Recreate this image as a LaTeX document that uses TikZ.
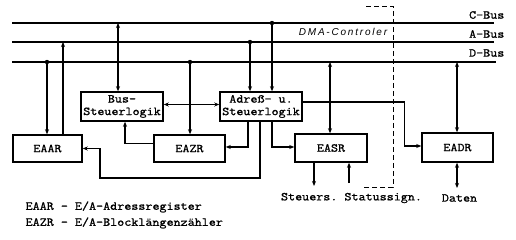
\documentclass[tikz,border=0pt]{standalone}
\usepackage{fontspec}
\setmonofont{Latin Modern Mono}[FakeStretch=1.14,FakeBold=1.2]
\newfontfamily\handfont[LetterSpace=18]{Liberation Sans}
\usetikzlibrary{arrows.meta,calc}

\begin{document}
\begin{tikzpicture}[x=1pt,y=-1pt,>={Stealth[length=5pt,width=4pt]},line width=1.3pt,
  every node/.style={font=\ttfamily\fontsize{12}{12.5}\selectfont,inner sep=0pt},
  blk/.style={draw,line width=1.5pt,align=center},
  dot/.style={circle,fill,minimum size=4.5pt}]
  \useasboundingbox (0,0) rectangle (516,240);
  % buses
  \foreach \y/\name/\lab/\ly/\xe in {23/cbus/C-Bus/15/494,42/abus/A-Bus/34/494,62/dbus/D-Bus/53/496}{
    \coordinate (\name) at (12,\y);
    \draw (\name) -- (\xe,\y);
    \node[anchor=east] (\name l) at (505,\ly) {\lab};
  }
  \draw[dashed,line width=0.6pt,dash pattern=on 5pt off 3pt] (366,6) -- (393,6) -- (393,187) -- (363,187);
  \node (dma) at (343,32) {\handfont\itshape\fontsize{10}{11}\selectfont DMA-Controler};
  % blocks
  \node[blk,minimum width=82pt,minimum height=29pt] (bsl) at (122,106.5) {Bus-\\Steuerlogik};
  \node[blk,minimum width=82pt,minimum height=29pt] (asl) at (261,106.5) {Adreß- u.\\Steuerlogik};
  \node[blk,minimum width=69pt,minimum height=27pt] (eaar) at (47.5,148.5) {EAAR};
  \node[blk,minimum width=71pt,minimum height=27pt] (eazr) at (189.5,148.5) {EAZR};
  \node[blk,minimum width=72pt,minimum height=28pt] (easr) at (331,148) {EASR};
  \node[blk,minimum width=71pt,minimum height=29pt] (eadr) at (457.5,147.5) {EADR};
  % bus taps
  \coordinate (c1) at (118,23);
  \coordinate (c2) at (272,23);
  \coordinate (a1) at (63,42);
  \coordinate (a2) at (250,42);
  \coordinate (d1) at (47,62);
  \coordinate (d2) at (190,62);
  \coordinate (d3) at (330,62);
  \coordinate (d4) at (457,62);
  \foreach \p in {c2,a2,d1,d2}{\fill (\p) circle (2.2pt);}
  \draw[<->] (c1) -- (c1 |- bsl.north);
  \draw[->] (c2) -- (c2 |- asl.north);
  \draw[->] (a2) -- (a2 |- asl.north);
  \draw[->] (a1 |- eaar.north) -- (a1);
  \draw[->] (d1) -- (d1 |- eaar.north);
  \draw[->] (d2) -- (d2 |- eazr.north);
  \draw[<->] (d3) -- (d3 |- easr.north);
  \draw[<->] (d4) -- (d4 |- eadr.north);
  % internal paths
  \draw[<->] ([yshift=2pt]bsl.east) -- ([yshift=2pt]asl.west);
  \draw[->] ([xshift=-13pt]asl.south) |- ([yshift=1.5pt]eazr.east);
  \draw[->] ([yshift=5pt]eazr.west) -| ([xshift=3pt]bsl.south);
  \draw[->] ([xshift=-1pt]asl.south) |- (100,178) |- (eaar.east);
  \draw[->] ([xshift=11pt]asl.south) |- ([yshift=1pt]easr.west);
  \draw[->] ([yshift=4.5pt]asl.east) -| ([xshift=-17pt,yshift=1.5pt]eadr.west) -- ([yshift=1.5pt]eadr.west);
  % outputs
  \coordinate (steu) at (314,186);
  \coordinate (stat) at (349,183);
  \coordinate (dat) at (457,188);
  \draw[->] (steu |- easr.south) -- (steu);
  \draw[->] (stat) -- (stat |- easr.south);
  \draw[<->] (dat) -- (dat |- eadr.south);
  \node (sig) at (351.5,198) {Steuers. Statussign.};
  \node (daten) at (459.5,198) {Daten};
  % legend
  \node[anchor=west] (leg1) at (25,207) {EAAR - E/A-Adressregister};
  \node[anchor=west] (leg2) at (25,223) {EAZR - E/A-Blocklängenzähler};
\end{tikzpicture}
\end{document}
